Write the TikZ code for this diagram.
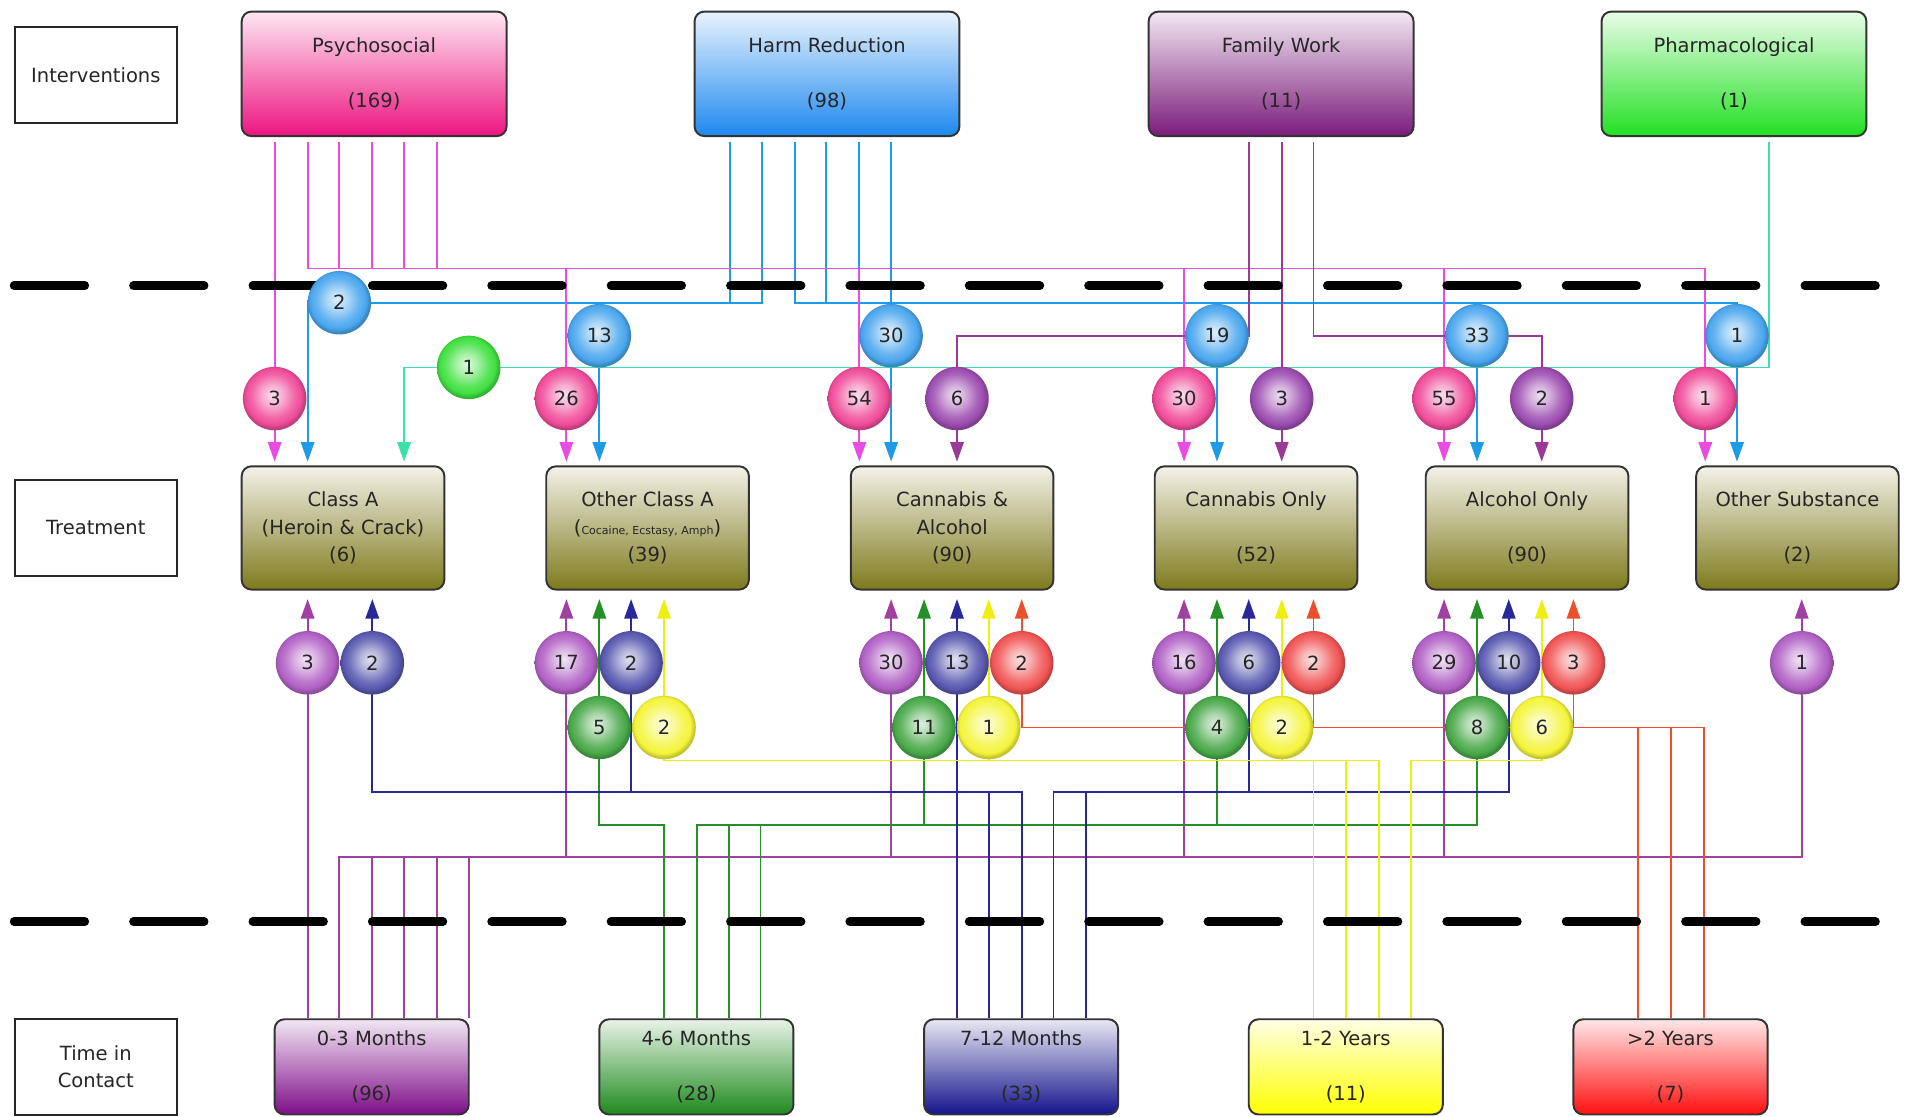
\documentclass[tikz,border=0pt]{standalone}
\usepackage{fontspec}
\setmainfont{DejaVu Sans}
\usetikzlibrary{shapes.geometric,arrows.meta}

% line colours
\definecolor{lnPk}{HTML}{E84CE0}
\definecolor{lnBl}{HTML}{1E9BE6}
\definecolor{lnGr}{HTML}{3CE0AA}
\definecolor{lnFp}{HTML}{9A3A96}
\definecolor{lnPu}{HTML}{A040A0}
\definecolor{lnGn}{HTML}{259025}
\definecolor{lnNv}{HTML}{28289A}
\definecolor{lnYl}{HTML}{EEEE10}
\definecolor{lnRd}{HTML}{E8502E}
% bubble colours
\definecolor{spPk}{HTML}{F04C9A}
\definecolor{spBl}{HTML}{4AA6EE}
\definecolor{spFp}{HTML}{9C4CB0}
\definecolor{spGr}{HTML}{40E040}
\definecolor{spPu}{HTML}{B060C4}
\definecolor{spNv}{HTML}{5858B0}
\definecolor{spRd}{HTML}{F05454}
\definecolor{spGn}{HTML}{48A848}
\definecolor{spYl}{HTML}{F4F43C}
% box colours
\definecolor{bxPsy}{HTML}{EE1480}
\definecolor{bxHr}{HTML}{1E88F0}
\definecolor{bxFw}{HTML}{7B1B7B}
\definecolor{bxPh}{HTML}{22E022}
\definecolor{bxTr}{HTML}{7E7A1C}
\definecolor{bxPu}{HTML}{7E0E88}
\definecolor{bxGn}{HTML}{1E8A1E}
\definecolor{bxNv}{HTML}{14148C}
\definecolor{bxYl}{HTML}{FFFF00}
\definecolor{bxRd}{HTML}{FF1010}

\colorlet{sphcol}{red}
\pgfdeclareradialshading[sphcol]{sphere}{\pgfpoint{-2bp}{3bp}}{%
  color(0bp)=(sphcol!18!white);
  color(8bp)=(sphcol!45!white);
  color(17bp)=(sphcol!85!white);
  color(22bp)=(sphcol);
  color(25bp)=(sphcol!80!black);
  color(50bp)=(sphcol!80!black)}

\pgfdeclarelayer{paper}
\pgfdeclarelayer{wires}
\pgfdeclarelayer{dashes}
\pgfsetlayers{paper,wires,dashes,main}

\tikzset{
  lbl/.style={rectangle, draw=black!85, line width=1.6pt, fill=white,
    minimum width=133pt, minimum height=79pt, align=center, inner sep=2pt},
  gbox/.style={rectangle, rounded corners=8pt, draw=black!80, line width=1.6pt,
    top color=#1!10!white, bottom color=#1, align=center, inner sep=2pt},
  ivbox/.style={gbox=#1, minimum width=217pt, minimum height=102pt},
  trbox/.style={gbox=#1, minimum width=166pt, minimum height=101pt},
  tmbox/.style={gbox=#1, minimum width=159pt, minimum height=78pt},
  setsph/.code={\colorlet{sphcol}{#1}},
  sph/.style={circle, minimum size=52pt, inner sep=0pt,
    setsph=#1, shade, shading=sphere},
  wire/.style={line width=1.5pt},
  pk/.style={wire, draw=lnPk},
  bl/.style={wire, draw=lnBl},
  gr/.style={wire, draw=lnGr},
  fp/.style={wire, draw=lnFp},
  pu/.style={wire, draw=lnPu},
  gn/.style={wire, draw=lnGn},
  nv/.style={wire, draw=lnNv},
  yl/.style={wire, draw=lnYl},
  rd/.style={wire, draw=lnRd},
  fromtop/.style={shorten <=4pt},
  tipdown/.style={-{Triangle[width=11pt,length=16pt]}, shorten >=3pt},
  tipup/.style={{Triangle[width=11pt,length=16pt]}-, shorten <=7pt},
  dashline/.style={line width=7pt, line cap=round, dash pattern=on 58pt off 39.8pt, draw=black}
}

\begin{document}
\begin{tikzpicture}[x=1pt, y=-1pt, font=\fontsize{16}{22.5}\selectfont, text=black!85]
\useasboundingbox (0,0) rectangle (1568,915);
\begin{pgfonlayer}{paper}
  \fill[white] (0,0) rectangle (1568,915);
\end{pgfonlayer}

% row labels
\node[lbl] (lint) at (78.5,61.5) {Interventions};
\node[lbl] (ltr) at (78.5,432.5) {Treatment};
\node[lbl] (ltc) at (78.5,874) {Time in\\Contact};

% interventions
\node[ivbox=bxPsy] (psy) at (306.5,60.5) {Psychosocial\\[22.5pt](169)};
\node[ivbox=bxHr] (hr) at (677.5,60.5) {Harm Reduction\\[22.5pt](98)};
\node[ivbox=bxFw] (fw) at (1049.5,60.5) {Family Work\\[22.5pt](11)};
\node[ivbox=bxPh] (ph) at (1420.5,60.5) {Pharmacological\\[22.5pt](1)};

% treatment groups
\node[trbox=bxTr] (ta) at (281,432.5) {Class A\\(Heroin \& Crack)\\(6)};
\node[trbox=bxTr] (tb) at (530.5,432.5) {Other Class A\\({\fontsize{9}{10}\selectfont Cocaine, Ecstasy, Amph})\\(39)};
\node[trbox=bxTr] (tc) at (780,432.5) {Cannabis \&\\Alcohol\\(90)};
\node[trbox=bxTr] (td) at (1029,432.5) {Cannabis Only\\[22.5pt](52)};
\node[trbox=bxTr] (te) at (1251,432.5) {Alcohol Only\\[22.5pt](90)};
\node[trbox=bxTr] (tf) at (1472.5,432.5) {Other Substance\\[22.5pt](2)};

% time in contact
\node[tmbox=bxPu] (m03) at (304.5,874) {0-3 Months\\[22.5pt](96)};
\node[tmbox=bxGn] (m46) at (570.5,874) {4-6 Months\\[22.5pt](28)};
\node[tmbox=bxNv] (m712) at (836.5,874) {7-12 Months\\[22.5pt](33)};
\node[tmbox=bxYl] (m12) at (1102.5,874) {1-2 Years\\[22.5pt](11)};
\node[tmbox=bxRd] (m2y) at (1368.5,874) {>2 Years\\[22.5pt](7)};

% intervention -> treatment counts
\node[sph=spBl] (bA) at (278,248) {2};
\node[sph=spBl] (bB) at (491,275) {13};
\node[sph=spBl] (bC) at (730,275) {30};
\node[sph=spBl] (bD) at (997,275) {19};
\node[sph=spBl] (bE) at (1210,275) {33};
\node[sph=spBl] (bF) at (1423,275) {1};
\node[sph=spGr] (gA) at (384,301) {1};
\node[sph=spPk] (pA) at (225,326.5) {3};
\node[sph=spPk] (pB) at (464,326.5) {26};
\node[sph=spPk] (pC) at (704,326.5) {54};
\node[sph=spPk] (pD) at (970,326.5) {30};
\node[sph=spPk] (pE) at (1183,326.5) {55};
\node[sph=spPk] (pF) at (1397,326.5) {1};
\node[sph=spFp] (fC) at (784,326.5) {6};
\node[sph=spFp] (fD) at (1050,326.5) {3};
\node[sph=spFp] (fE) at (1263,326.5) {2};

% treatment -> time counts
\node[sph=spPu] (mA) at (252,543) {3};
\node[sph=spNv] (nA) at (305,543) {2};
\node[sph=spPu] (mB) at (464,543) {17};
\node[sph=spNv] (nB) at (517,543) {2};
\node[sph=spGn] (gB) at (491,596) {5};
\node[sph=spYl] (yB) at (544,596) {2};
\node[sph=spPu] (mC) at (730,543) {30};
\node[sph=spNv] (nC) at (784,543) {13};
\node[sph=spRd] (rC) at (837,543) {2};
\node[sph=spGn] (gC) at (757,596) {11};
\node[sph=spYl] (yC) at (810,596) {1};
\node[sph=spPu] (mD) at (970,543) {16};
\node[sph=spNv] (nD) at (1023,543) {6};
\node[sph=spRd] (rD) at (1076,543) {2};
\node[sph=spGn] (gD) at (997,596) {4};
\node[sph=spYl] (yD) at (1050,596) {2};
\node[sph=spPu] (mE) at (1183,543) {29};
\node[sph=spNv] (nE) at (1236,543) {10};
\node[sph=spRd] (rE) at (1289,543) {3};
\node[sph=spGn] (gE) at (1210,596) {8};
\node[sph=spYl] (yE) at (1263,596) {6};
\node[sph=spPu] (mF) at (1476,543) {1};

% bus corners
\coordinate (pk1) at (252,220);
\coordinate (pk2) at (278,220);
\coordinate (pk3) at (305,220);
\coordinate (pk4) at (331,220);
\coordinate (pk5) at (358,220);
\coordinate (pkR) at (1397,220);
\coordinate (bl1) at (598,248);
\coordinate (bl2) at (624,248);
\coordinate (blL) at (252,248);
\coordinate (bl3) at (651,248);
\coordinate (bl4) at (677,248);
\coordinate (bl5) at (704,248);
\coordinate (blR) at (1423,248);
\coordinate (grR) at (1449,301);
\coordinate (grL) at (331,301);
\coordinate (fw1) at (1023,275);
\coordinate (fw3) at (1076,275);

\coordinate (pu1) at (278,702);
\coordinate (pu2) at (305,702);
\coordinate (pu3) at (331,702);
\coordinate (pu4) at (358,702);
\coordinate (pu5) at (384,702);
\coordinate (puR) at (1476,702);
\coordinate (gn0) at (544,676);
\coordinate (gn1) at (571,676);
\coordinate (gn2) at (597,676);
\coordinate (gn3) at (623,676);
\coordinate (nv1) at (810,649);
\coordinate (nv2) at (837,649);
\coordinate (nv3) at (863,649);
\coordinate (nv4) at (890,649);
\coordinate (yl1) at (1076,623);
\coordinate (yl2) at (1103,623);
\coordinate (yl3) at (1130,623);
\coordinate (yl4) at (1156,623);
\coordinate (rd1) at (1342,596);
\coordinate (rd2) at (1369,596);
\coordinate (rd3) at (1396,596);

\coordinate (dl1) at (11.5,234);
\coordinate (dr1) at (1536.5,234);
\coordinate (dl2) at (11.5,755);
\coordinate (dr2) at (1536.5,755);

\begin{pgfonlayer}{wires}
  % harm reduction
  \draw[bl,fromtop,tipdown] (hr.south -| bl2) -- (bl2) -- (blL) -- (ta.north -| blL);
  \draw[bl,fromtop] (hr.south -| bl1) -- (bl1);
  \draw[bl,tipdown] (bB |- blL) -- (tb.north -| bB);
  \draw[bl,fromtop,tipdown] (hr.south -| bl3) -- (bl3) -- (blR) -- (tf.north -| bF);
  \draw[bl,fromtop] (hr.south -| bl4) -- (bl4);
  \draw[bl,fromtop] (hr.south -| bl5) -- (bl5);
  \draw[bl,fromtop,tipdown] (hr.south -| bC) -- (tc.north -| bC);
  \draw[bl,tipdown] (bD |- blR) -- (td.north -| bD);
  \draw[bl,tipdown] (bE |- blR) -- (te.north -| bE);
  % psychosocial
  \draw[pk,fromtop,tipdown] (psy.south -| pA) -- (ta.north -| pA);
  \draw[pk,fromtop,tipdown] (psy.south -| pk1) -- (pk1) -- (pkR) -- (tf.north -| pF);
  \foreach \c in {pk2,pk3,pk4,pk5} \draw[pk,fromtop] (psy.south -| \c) -- (\c);
  \draw[pk,tipdown] (pB |- pk1) -- (tb.north -| pB);
  \draw[pk,tipdown] (pC |- pk1) -- (tc.north -| pC);
  \draw[pk,tipdown] (pD |- pk1) -- (td.north -| pD);
  \draw[pk,tipdown] (pE |- pk1) -- (te.north -| pE);
  % pharmacological
  \draw[gr,fromtop,tipdown] (ph.south -| grR) -- (grR) -- (grL) -- (ta.north -| grL);
  % family work
  \draw[fp,fromtop,tipdown] (fw.south -| fw1) -- (fw1) -- (fC |- fw1) -- (tc.north -| fC);
  \draw[fp,fromtop,tipdown] (fw.south -| fD) -- (td.north -| fD);
  \draw[fp,fromtop,tipdown] (fw.south -| fw3) -- (fw3) -- (fE |- fw3) -- (te.north -| fE);

  % 0-3 months
  \draw[pu,tipup] (ta.south -| mA) -- (m03.north -| mA);
  \draw[pu,tipup] (tf.south -| mF) -- (puR) -- (pu1) -- (m03.north -| pu1);
  \draw[pu,tipup] (tb.south -| mB) -- (mB |- pu1);
  \draw[pu,tipup] (tc.south -| mC) -- (mC |- pu1);
  \draw[pu,tipup] (td.south -| mD) -- (mD |- pu1);
  \draw[pu,tipup] (te.south -| mE) -- (mE |- pu1);
  \foreach \c in {pu2,pu3,pu4,pu5} \draw[pu] (\c) -- (m03.north -| \c);
  % 4-6 months
  \draw[gn,tipup] (tb.south -| gB) -- (gB |- gn0) -- (gn0) -- (m46.north -| gn0);
  \draw[gn,tipup] (te.south -| gE) -- (gE |- gn1) -- (gn1) -- (m46.north -| gn1);
  \draw[gn,tipup] (tc.south -| gC) -- (gC |- gn1);
  \draw[gn,tipup] (td.south -| gD) -- (gD |- gn1);
  \foreach \c in {gn2,gn3} \draw[gn] (\c) -- (m46.north -| \c);
  % 7-12 months
  \draw[nv,tipup] (tc.south -| nC) -- (m712.north -| nC);
  \draw[nv,tipup] (ta.south -| nA) -- (nA |- nv2) -- (nv2) -- (m712.north -| nv2);
  \draw[nv,tipup] (tb.south -| nB) -- (nB |- nv2);
  \draw[nv] (nv1) -- (m712.north -| nv1);
  \draw[nv,tipup] (te.south -| nE) -- (nE |- nv3) -- (nv3) -- (m712.north -| nv3);
  \draw[nv,tipup] (td.south -| nD) -- (nD |- nv3);
  \draw[nv] (nv4) -- (m712.north -| nv4);
  % 1-2 years
  \draw[yl,tipup] (tb.south -| yB) -- (yB |- yl3) -- (yl3) -- (m12.north -| yl3);
  \draw[yl,tipup] (tc.south -| yC) -- (yC |- yl3);
  \draw[yl,tipup] (td.south -| yD) -- (yD |- yl3);
  \foreach \c in {yl1,yl2} \draw[yl] (\c) -- (m12.north -| \c);
  \draw[yl,tipup] (te.south -| yE) -- (yE |- yl4) -- (yl4) -- (m12.north -| yl4);
  % more than 2 years
  \draw[rd,tipup] (tc.south -| rC) -- (rC |- rd3) -- (rd3) -- (m2y.north -| rd3);
  \draw[rd,tipup] (td.south -| rD) -- (rD |- rd3);
  \draw[rd,tipup] (te.south -| rE) -- (rE |- rd3);
  \foreach \c in {rd1,rd2} \draw[rd] (\c) -- (m2y.north -| \c);
\end{pgfonlayer}

\begin{pgfonlayer}{dashes}
  \draw[dashline] (dl1) -- (dr1);
  \draw[dashline] (dl2) -- (dr2);
\end{pgfonlayer}
\end{tikzpicture}
\end{document}
